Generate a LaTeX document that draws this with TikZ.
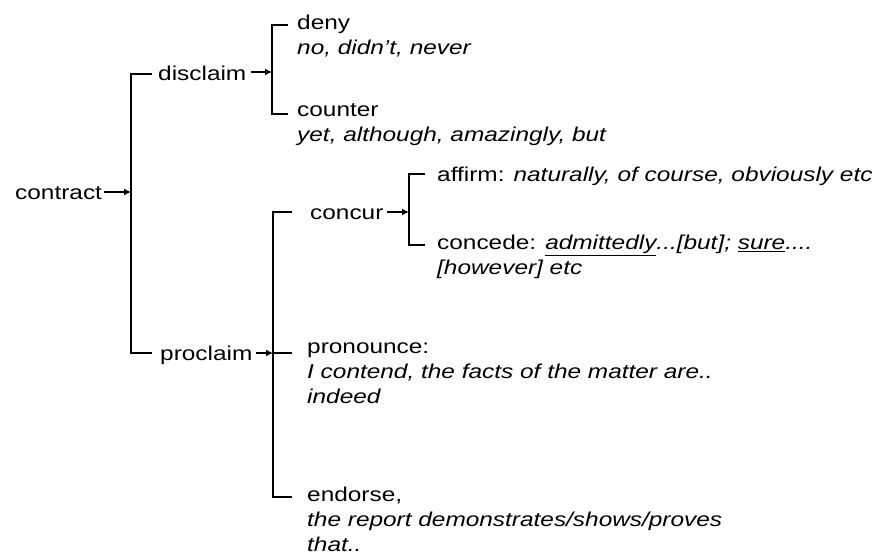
\documentclass[tikz,border=0pt]{standalone}
\usepackage{fontspec}
\setmainfont{Liberation Sans}[FakeStretch=1.22]
\usetikzlibrary{arrows.meta}
\begin{document}
\begin{tikzpicture}[x=1pt,y=-1pt,
  lbl/.style={inner sep=0pt, anchor=north west, align=left,
              font=\fontsize{20}{25}\selectfont,
              execute at begin node=\strut},
  brk/.style={line width=1.8pt, line cap=butt, line join=miter},
  arr/.style={line width=1.6pt, -{Latex[length=7pt,width=7pt]}},
]
\useasboundingbox (0,0) rectangle (882,558);

% labels (north edge = first baseline - 17.5pt)
\node[lbl] (contract) at (15,181.5) {contract};
\node[lbl] (disclaim) at (158,62.5) {disclaim};
\node[lbl] (proclaim) at (160,342.5) {proclaim};
\node[lbl] (deny) at (297,14.5) {deny\\\textit{no, didn't, never}};
\node[lbl] (counter) at (297,103.5) {counter\\\textit{yet, although, amazingly, but}};
\node[lbl] (concur) at (310,201.5) {concur};
\node[lbl] (affirm) at (437,163.5) {affirm: \textit{naturally, of course, obviously etc}};
\node[lbl] (concede) at (437,234.5) {concede: \textit{\underline{admittedly}...[but]; \underline{sure}....}\\\textit{[however] etc}};
\node[lbl] (pronounce) at (307,342.5) {pronounce:\\\textit{I contend, the facts of the matter are..}\\\textit{indeed}};
\node[lbl] (endorse) at (307,486.5) {endorse,\\\textit{the report demonstrates/shows/proves}\\\textit{that..}};

% bracket joints
\coordinate (cJ) at (131,192);
\coordinate (cT) at (131,74);
\coordinate (cB) at (131,353);
\coordinate (dJ) at (272,72);
\coordinate (dT) at (272,25);
\coordinate (dB) at (272,114);
\coordinate (pJ) at (273,353);
\coordinate (pT) at (273,212);
\coordinate (pB) at (273,497);
\coordinate (kJ) at (409,212);
\coordinate (kT) at (409,174);
\coordinate (kB) at (409,245);

% contract bracket
\draw[arr] ([xshift=2pt]contract.east |- cJ) -- (cJ);
\draw[brk] (152,74) -- (cT) -- (cB) -- (152,353);

% disclaim bracket
\draw[arr] ([xshift=4pt]disclaim.east |- dJ) -- (dJ);
\draw[brk] (288,25) -- (dT) -- (dB) -- (288,114);

% proclaim bracket
\draw[arr] ([xshift=3pt]proclaim.east |- pJ) -- (pJ);
\draw[brk] (292,212) -- (pT) -- (pB) -- (292,497);
\draw[brk] (pJ) -- (292,353);

% concur bracket
\draw[arr] ([xshift=3pt]concur.east |- kJ) -- (kJ);
\draw[brk] (425,174) -- (kT) -- (kB) -- (425,245);
\end{tikzpicture}
\end{document}
